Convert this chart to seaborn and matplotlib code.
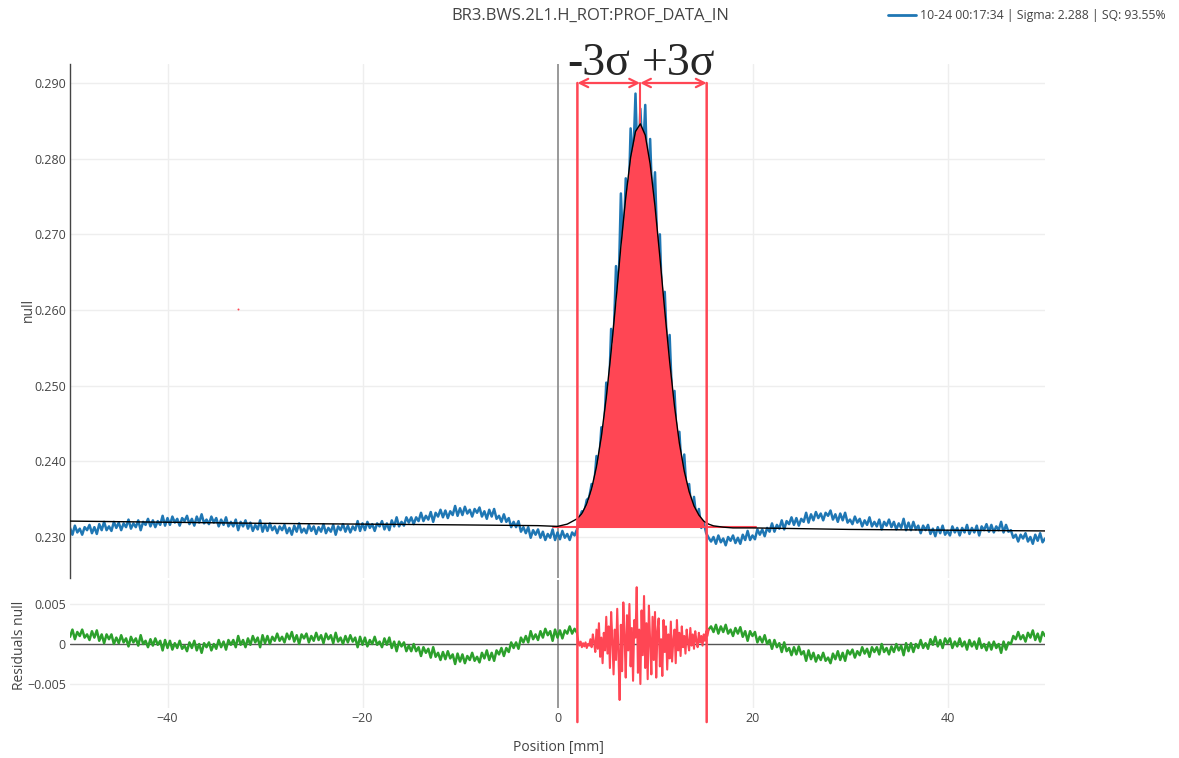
import numpy as np
import pandas as pd
import matplotlib
matplotlib.use("Agg")
import matplotlib.pyplot as plt
import seaborn as sns
from matplotlib.patches import ConnectionPatch
from matplotlib.lines import Line2D
from matplotlib.transforms import blended_transform_factory

# --- профиль, шаг 0.25 мм ---
profile_left = [  # x = -50 ... 1.75
    .2312, .2303, .2315, .2306, .2311, .2303, .2313, .2309, .2316, .2305, .2313, .2304,
    .2317, .2309, .2320, .2309, .2314, .2308, .2320, .2312, .2319, .2309, .2318, .2313,
    .2323, .2311, .2318, .2313, .2322, .2309, .2320, .2316, .2324, .2314, .2322, .2313,
    .2321, .2316, .2328, .2315, .2325, .2316, .2327, .2319, .2324, .2315, .2325, .2321,
    .2328, .2317, .2324, .2315, .2327, .2319, .2330, .2318, .2323, .2317, .2327, .2319,
    .2325, .2314, .2323, .2316, .2326, .2314, .2320, .2314, .2323, .2309, .2320, .2314,
    .2322, .2311, .2319, .2308, .2316, .2310, .2322, .2307, .2317, .2308, .2318, .2309,
    .2314, .2305, .2314, .2309, .2316, .2305, .2312, .2303, .2315, .2307, .2318, .2306,
    .2311, .2305, .2316, .2308, .2314, .2304, .2313, .2307, .2317, .2305, .2312, .2307,
    .2316, .2303, .2314, .2309, .2317, .2307, .2315, .2306, .2314, .2309, .2321, .2308,
    .2318, .2309, .2320, .2312, .2317, .2308, .2318, .2314, .2321, .2310, .2318, .2309,
    .2322, .2314, .2326, .2314, .2320, .2315, .2326, .2319, .2326, .2317, .2326, .2321,
    .2332, .2321, .2328, .2323, .2333, .2320, .2332, .2327, .2336, .2326, .2335, .2325,
    .2334, .2329, .2341, .2328, .2338, .2329, .2340, .2331, .2336, .2327, .2337, .2332,
    .2339, .2327, .2334, .2324, .2336, .2327, .2337, .2324, .2328, .2320, .2330, .2320,
    .2325, .2313, .2320, .2313, .2321, .2307, .2313, .2305, .2313, .2299, .2309, .2303,
    .2310, .2299, .2307, .2296, .2304, .2299, .2310, .2296, .2306, .2297, .2308, .2299,
    .2304, .2296, .2306, .2302,
]
profile_peak = [  # x = 2.0 ... 15.25
    .2310, .2325, .2334, .2333, .2349, .2352, .2370, .2366,
    .2407, .2394, .2445, .2431, .2504, .2475, .2575, .2557,
    .2658, .2619, .2754, .2675, .2774, .2722, .2840, .2791,
    .2886, .2773, .2866, .2796, .2871, .2755, .2826, .2731,
    .2782, .2676, .2700, .2594, .2624, .2543, .2567, .2483,
    .2493, .2422, .2439, .2384, .2409, .2357, .2370, .2331,
    .2353, .2324, .2337, .2312, .2319, .2305,
]
profile_right = [  # x = 15.5 ... 50
    .2299, .2294,
    .2300, .2291, .2302, .2293, .2298, .2289, .2300, .2295, .2302, .2292, .2299, .2291,
    .2303, .2296, .2308, .2296, .2302, .2297, .2310, .2303, .2310, .2301, .2312, .2307,
    .2318, .2307, .2316, .2311, .2322, .2310, .2321, .2317, .2326, .2316, .2325, .2315,
    .2324, .2320, .2332, .2319, .2330, .2322, .2333, .2325, .2331, .2322, .2332, .2328,
    .2335, .2323, .2330, .2320, .2331, .2322, .2332, .2319, .2323, .2317, .2327, .2319,
    .2324, .2314, .2322, .2316, .2326, .2314, .2320, .2314, .2323, .2310, .2320, .2315,
    .2323, .2313, .2320, .2310, .2318, .2312, .2324, .2309, .2319, .2309, .2320, .2310,
    .2315, .2305, .2315, .2309, .2316, .2304, .2311, .2301, .2313, .2305, .2315, .2303,
    .2308, .2302, .2314, .2306, .2312, .2302, .2312, .2306, .2316, .2304, .2312, .2306,
    .2315, .2302, .2314, .2309, .2317, .2307, .2316, .2306, .2314, .2309, .2320, .2306,
    .2316, .2307, .2309, .2299, .2303, .2294, .2303, .2298, .2305, .2294, .2300, .2291,
    .2303, .2295, .2305, .2293,
    .2298,
]
profile_pos = np.arange(-50, 50.01, 0.25)
profile_val = profile_left + profile_peak + profile_right

# гауссов фит (Sigma 2.288)
fit_pos = [-50, -30, -10, -2, 0, 1, 2, 2.5, 3, 3.5, 4, 4.5, 5, 5.5, 6, 6.5, 7, 7.5,
           8, 8.5, 9, 9.5, 10, 10.5, 11, 11.5, 12, 12.5, 13, 13.5, 14, 14.5, 15,
           15.5, 16, 17, 18, 20, 30, 50]
fit_val = [0.2321, 0.2318, 0.2316, 0.2315, 0.2314, 0.2317, 0.2324, 0.2331, 0.2344,
           0.2364, 0.2393, 0.2433, 0.2484, 0.2545, 0.2613, 0.2684, 0.2749, 0.2802,
           0.2836, 0.2846, 0.2831, 0.2793, 0.2737, 0.2670, 0.2599, 0.2532, 0.2473,
           0.2424, 0.2387, 0.2360, 0.2341, 0.2329, 0.2321, 0.2317, 0.23147, 0.2313,
           0.2312, 0.2312, 0.2310, 0.2308]

# остатки
resid_left_pos = np.arange(-50, 2.01, 0.25)
resid_left_val = [
    .0009, .0018, .0006, .0015, .0010, .0018, .0008, .0012, .0005, .0016, .0008, .0017,
    .0004, .0012, .0001, .0012, .0006, .0012, .0000, .0008, .0001, .0011, .0002, .0007,
    -.0003, .0009, .0002, .0007, -.0002, .0011, .0000, .0004, -.0004, .0006, -.0002, .0007,
    -.0001, .0004, -.0008, .0005, -.0005, .0004, -.0007, .0001, -.0005, .0004, -.0006, -.0002,
    -.0009, .0002, -.0005, .0004, -.0008, .0000, -.0011, .0001, -.0004, .0002, -.0008, .0000,
    -.0006, .0005, -.0004, .0003, -.0007, .0005, -.0001, .0005, -.0004, .0010, -.0001, .0005,
    -.0004, .0007, -.0001, .0010, .0002, .0008, -.0004, .0011, .0001, .0010, .0000, .0009,
    .0004, .0013, .0004, .0009, .0002, .0013, .0006, .0015, .0003, .0011, .0000, .0012,
    .0007, .0013, .0002, .0010, .0004, .0014, .0005, .0011, .0001, .0013, .0006, .0011,
    .0001, .0014, .0003, .0008, .0000, .0010, .0002, .0011, .0003, .0008, -.0004, .0009,
    -.0001, .0008, -.0003, .0005, .0000, .0009, -.0001, .0003, -.0004, .0007, -.0001, .0008,
    -.0005, .0003, -.0009, .0003, -.0003, .0002, -.0009, -.0002, -.0009, .0000, -.0009, -.0004,
    -.0015, -.0004, -.0011, -.0006, -.0017, -.0004, -.0016, -.0011, -.0020, -.0010, -.0019, -.0009,
    -.0018, -.0013, -.0025, -.0012, -.0022, -.0013, -.0024, -.0015, -.0020, -.0011, -.0021, -.0016,
    -.0023, -.0011, -.0018, -.0008, -.0020, -.0011, -.0021, -.0008, -.0013, -.0005, -.0015, -.0005,
    -.0010, .0002, -.0005, .0002, -.0006, .0008, .0002, .0010, .0002, .0016, .0006, .0012,
    .0005, .0016, .0008, .0019, .0011, .0016, .0004, .0018, .0008, .0017, .0007, .0017,
    .0013, .0022, .0013, .0019, .0014,
]
resid_peak_pos = np.arange(2, 15.51, 0.125)
resid_peak_val = [
    .0014, .0004, -.0002, .0003, -.0004, .0001, -.0003, .0002,
    -.0005, .0000, -.0002, .0006, -.0004, .0012, .0002, -.0010,
    .0018, -.0006, .0026, -.0016, .0008, -.0024, .0014, -.0008,
    .0034, -.0012, .0022, -.0030, .0040, .0006, -.0038, .0018,
    -.0020, .0044, -.0012, -.0070, .0024, -.0034, .0052, .0010,
    -.0042, .0036, -.0008, .0050, -.0028, .0020, -.0046, .0030,
    .0008, .0071, -.0036, .0018, -.0050, .0042, -.0014, .0060,
    -.0030, .0026, -.0044, .0048, .0004, -.0038, .0034, -.0020,
    .0040, -.0042, .0016, .0032, -.0028, .0006, -.0040, .0030,
    -.0010, .0022, -.0032, .0012, -.0018, .0028, -.0022, .0004,
    .0018, -.0024, .0030, -.0008, .0014, -.0015, .0022, -.0004,
    .0010, -.0012, .0018, .0002, -.0008, .0020, -.0002, .0012,
    -.0006, .0016, .0004, -.0004, .0014, .0002, .0010, -.0002,
    .0012, .0004, .0016, .0010, .0018,
]
resid_right_pos = np.arange(15.5, 50.01, 0.25)
resid_right_val = [
    .0018, .0022,
    .0015, .0024, .0013, .0022, .0015, .0024, .0013, .0018, .0010, .0020, .0013, .0021,
    .0009, .0016, .0004, .0016, .0010, .0015, .0002, .0009, .0002, .0011, .0000, .0005,
    -.0006, .0005, -.0004, .0001, -.0010, .0002, -.0009, -.0005, -.0014, -.0004, -.0013, -.0003,
    -.0013, -.0009, -.0021, -.0008, -.0019, -.0011, -.0022, -.0014, -.0020, -.0011, -.0021, -.0017,
    -.0024, -.0012, -.0019, -.0009, -.0020, -.0011, -.0021, -.0008, -.0013, -.0007, -.0017, -.0009,
    -.0014, -.0004, -.0012, -.0006, -.0016, -.0004, -.0010, -.0004, -.0013, .0000, -.0010, -.0005,
    -.0013, -.0003, -.0010, .0000, -.0008, -.0002, -.0014, .0001, -.0009, .0001, -.0010, .0000,
    -.0005, .0005, -.0005, .0001, -.0006, .0006, -.0001, .0009, -.0003, .0005, -.0005, .0007,
    .0001, .0007, -.0005, .0003, -.0003, .0007, -.0003, .0003, -.0007, .0005, -.0003, .0003,
    -.0006, .0007, -.0005, .0000, -.0008, .0002, -.0007, .0003, -.0005, .0000, -.0011, .0003,
    -.0007, .0002, .0000, .0010, .0006, .0015, .0006, .0011, .0003, .0014, .0008, .0017,
    .0005, .0013, .0003, .0015,
    .0010,
]

# границы ±3σ и базовая линия заливки
sigma_lo, sigma_mid, sigma_hi = 2.04, 8.47, 15.3
arrow_level = 0.290
baseline_pos = [-0.5, 20.4]
baseline_val = [0.2313, 0.2313]
stray_pos, stray_val = [-32.8], [0.2601]

x_ticks = [-40, -20, 0, 20, 40]
y_ticks = [0.230, 0.240, 0.250, 0.260, 0.270, 0.280, 0.290]
res_ticks = [-0.005, 0, 0.005]

title = "BR3.BWS.2L1.H_ROT:PROF_DATA_IN"
legend_label = "10-24 00:17:34 | Sigma: 2.288 | SQ: 93.55%"

BLUE, GREEN, RED = "#1f77b4", "#2ca02c", "#ff4654"
GRID, TXT = "#eeeeee", "#444444"

sns.set_style("white")
plt.rcParams["font.family"] = ["Open Sans", "DejaVu Sans"]

W, H = 1179, 758
fig = plt.figure(figsize=(W / 100, H / 100), dpi=100)
ax = fig.add_axes([70 / W, 1 - 578 / H, 975 / W, 514 / H])
ax_r = fig.add_axes([70 / W, 1 - 708 / H, 975 / W, 128 / H])

df_prof = pd.DataFrame({"pos": profile_pos, "val": profile_val})
df_fit = pd.DataFrame({"pos": fit_pos, "val": fit_val})

# верхняя панель
for t in y_ticks:
    ax.axhline(t, color=GRID, lw=1, zorder=0)
for t in x_ticks:
    if t != 0:
        ax.axvline(t, color=GRID, lw=1, zorder=0)
ax.axvline(0, color="#888888", lw=1.2, zorder=1)

sns.lineplot(data=df_prof, x="pos", y="val", ax=ax, color=BLUE, lw=1.8,
             estimator=None, sort=False, legend=False, zorder=2)
sel = df_fit[(df_fit.pos >= 2) & (df_fit.pos <= sigma_hi)]
ax.fill_between(sel.pos, baseline_val[0], sel.val, color=RED, lw=0, zorder=3)
ax.plot([sigma_mid, sigma_mid], [arrow_level, baseline_val[0]], color=RED, lw=1.5, zorder=3)
sns.lineplot(x=baseline_pos, y=baseline_val, ax=ax, color=RED, lw=1.5, zorder=3)
sns.lineplot(data=df_fit, x="pos", y="val", ax=ax, color="black", lw=1,
             estimator=None, sort=False, legend=False, zorder=4)
ax.scatter(stray_pos, stray_val, s=2, color=RED, lw=0, zorder=4)

arrow = dict(arrowstyle="<->,head_length=0.6,head_width=0.3", color=RED, lw=1.6,
             shrinkA=0, shrinkB=0)
ax.annotate("", xy=(sigma_lo, arrow_level), xytext=(sigma_mid, arrow_level), arrowprops=arrow)
ax.annotate("", xy=(sigma_hi, arrow_level), xytext=(sigma_mid, arrow_level), arrowprops=arrow)

ax.set_xlim(-50, 50)
ax.set_ylim(0.22458, 0.29251)
ax.set_yticks(y_ticks)
ax.set_yticklabels([f"{t:.3f}" for t in y_ticks])
ax.set_xticks([])
ax.set_xlabel("")
ax.set_ylabel("")
for s in ["top", "right", "bottom"]:
    ax.spines[s].set_visible(False)
ax.spines["left"].set_color(TXT)
ax.spines["left"].set_linewidth(1)
ax.tick_params(axis="y", length=0, pad=3, labelcolor=TXT, labelsize=9)

# нижняя панель (остатки)
for t in res_ticks:
    if t != 0:
        ax_r.axhline(t, color=GRID, lw=1, zorder=0)
for t in x_ticks:
    if t != 0:
        ax_r.axvline(t, color=GRID, lw=1, zorder=0)
ax_r.axvline(0, color="#888888", lw=1.2, zorder=1)
ax_r.axhline(0, color="#555555", lw=1, zorder=1)
sns.lineplot(x=resid_left_pos, y=resid_left_val, ax=ax_r, color=GREEN, lw=1.8,
             estimator=None, sort=False, zorder=2)
sns.lineplot(x=resid_right_pos, y=resid_right_val, ax=ax_r, color=GREEN, lw=1.8,
             estimator=None, sort=False, zorder=2)
sns.lineplot(x=resid_peak_pos, y=resid_peak_val, ax=ax_r, color=RED, lw=1.5,
             estimator=None, sort=False, zorder=2)
ax_r.set_xlim(-50, 50)
ax_r.set_ylim(-0.008, 0.008)
ax_r.set_xticks(x_ticks)
ax_r.set_xticklabels([str(t).replace("-", "\u2212") for t in x_ticks])
ax_r.set_yticks(res_ticks)
ax_r.set_yticklabels(["\u22120.005", "0", "0.005"])
ax_r.set_xlabel("")
ax_r.set_ylabel("")
sns.despine(ax=ax_r, left=True, bottom=True)
ax_r.tick_params(axis="both", length=0, pad=3, labelcolor=TXT, labelsize=9)

# подписи осей
fig.text(28 / W, 1 - 310 / H, "null", rotation=90, ha="center", va="center",
         fontsize=10, color=TXT)
fig.text(20 / W, 1 - 645 / H, "Residuals null", rotation=90, ha="center", va="center",
         fontsize=10, color=TXT)
fig.text(558 / W, 1 - 748 / H, "Position [mm]", ha="center", va="center",
         fontsize=10, color=TXT)

# красные вертикальные линии ±3σ через обе панели
trans_b = blended_transform_factory(ax_r.transData, ax_r.transAxes)
for xv in (sigma_lo, sigma_hi):
    con = ConnectionPatch(xyA=(xv, arrow_level), coordsA=ax.transData,
                          xyB=(xv, -0.11), coordsB=trans_b,
                          color=RED, lw=1.8, zorder=5)
    fig.add_artist(con)

# подписи -3σ / +3σ
serif = ["Liberation Serif", "DejaVu Serif"]
fig.text(599 / W, 1 - 75 / H, "-3σ", ha="center", va="baseline", fontsize=33, family=serif)
fig.text(678 / W, 1 - 75 / H, "+3σ", ha="center", va="baseline", fontsize=33, family=serif)

# заголовок и легенда
fig.text(590 / W, 1 - 16 / H, title, ha="center", va="center", fontsize=12, color=TXT)
fig.add_artist(Line2D([888 / W, 916 / W], [1 - 15 / H, 1 - 15 / H], color=BLUE, lw=2))
fig.text(920 / W, 1 - 15 / H, legend_label, ha="left", va="center", fontsize=8.8, color=TXT)

fig.savefig("out.png", dpi=100)
